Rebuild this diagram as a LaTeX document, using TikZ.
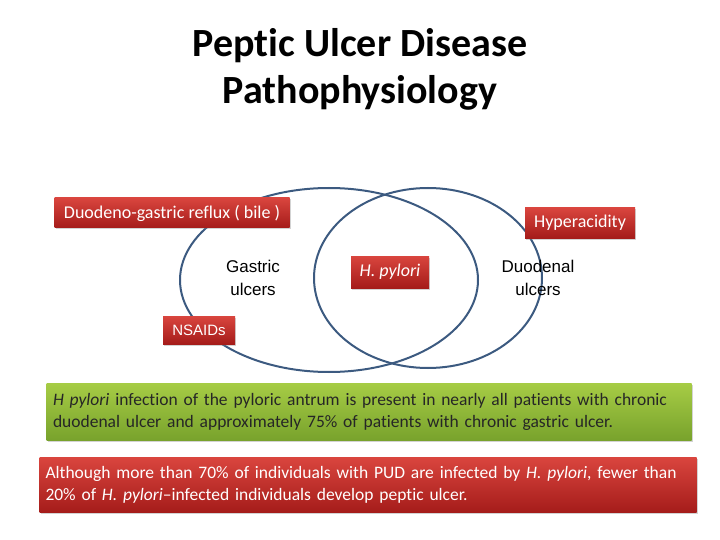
\documentclass[tikz,border=0pt]{standalone}
\usepackage{fontspec}
\setmainfont{Carlito}[Ligatures={NoCommon}]
\newfontfamily\arialf{Liberation Sans}
\usetikzlibrary{shadows}
\definecolor{redtop}{HTML}{D9453E}
\definecolor{redbot}{HTML}{A51C1A}
\definecolor{greentop}{HTML}{A6CC45}
\definecolor{greenbot}{HTML}{78A22C}
\definecolor{ringblue}{HTML}{3C5A80}
\begin{document}
\begin{tikzpicture}[x=1pt,y=-1pt]
\tikzstyle{redbox}=[rectangle, top color=redtop, bottom color=redbot, draw=none,
  text=white, font=\fontsize{18}{22}\selectfont, drop shadow={opacity=0.35, shadow xshift=1pt, shadow yshift=-1.5pt}]
\tikzstyle{ring}=[draw=ringblue, line width=2pt]
\useasboundingbox (0,0) rectangle (720,540);
\node (title) at (360,69) [align=center, font=\fontsize{40}{47}\selectfont\bfseries] {Peptic Ulcer Disease\\Pathophysiology};
\draw[ring] (329,280) ellipse [x radius=149, y radius=92];
\draw[ring] (428,278) ellipse [x radius=114, y radius=90];
\node (reflux) [redbox, minimum width=235, minimum height=30] at (172,213) {Duodeno-gastric reflux ( bile )};
\node (acid) [redbox, minimum width=110, minimum height=30] at (580,223) {Hyperacidity};
\node (hp) [redbox, minimum width=78, minimum height=32] at (390,272) {\itshape H. pylori};
\node (nsaid) [redbox, minimum width=72, minimum height=28, font=\arialf\fontsize{15}{18}\selectfont] at (199,330) {NSAIDs};
\node (gastric) at (253,278) [align=center, font=\arialf\fontsize{17}{23}\selectfont] {Gastric\\ulcers};
\node (duod) at (538,278) [align=center, font=\arialf\fontsize{17}{23}\selectfont] {Duodenal\\ulcers};
\node (green) [redbox, top color=greentop, bottom color=greenbot, text=black!85, minimum width=645, minimum height=57,
  align=left, text width=632, font=\fontsize{17.5}{22}\selectfont] at (369,412) {\hyphenpenalty=10000 \textit{H pylori} infection of the pyloric antrum is present in nearly all patients with chronic duodenal ulcer and approximately 75\% of patients with chronic gastric ulcer.};
\node (infect) [redbox, minimum width=657, minimum height=55, align=left, text width=645, font=\fontsize{17.5}{22}\selectfont] at (368,485)
  {\hyphenpenalty=10000 Although more than 70\% of individuals with PUD are infected by \textit{H. pylori}, fewer than 20\% of \textit{H. pylori}–infected individuals develop peptic ulcer.};
\end{tikzpicture}
\end{document}
